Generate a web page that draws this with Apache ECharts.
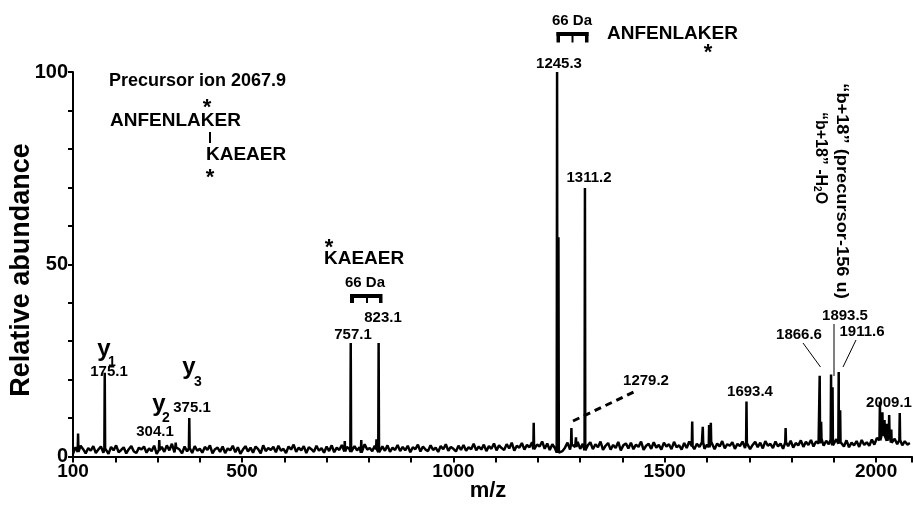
<!DOCTYPE html>
<html>
<head>
<meta charset="utf-8">
<script src="https://cdn.jsdelivr.net/npm/echarts@6/dist/echarts.min.js"></script>
<style>html,body{margin:0;padding:0;background:#fff}#c{width:914px;height:509px}</style>
</head>
<body>
<div id="c"></div>
<script>
// ---- data ----
const NOISE_START = 100;   // m/z of first baseline reading
const NOISE_STEP = 6;      // m/z between baseline readings
const noise = [
  0.7,2.4,1.2,2.8,1.9,0.8,2.2,1.5,2.7,0.9,
  1.8,2.6,1.0,2.1,0.7,2.5,1.6,2.9,1.1,1.7,
  2.4,0.8,1.9,2.7,1.3,0.9,2.3,1.8,2.6,1.0,
  2.1,1.4,2.8,0.7,1.7,2.5,1.2,2.9,1.6,3.3,
  1.1,2.4,1.8,0.8,2.6,1.3,2.2,0.9,2.7,1.5,
  2.0,1.0,2.5,1.7,2.9,0.8,1.9,2.3,1.2,2.6,
  0.9,2.1,1.6,2.8,1.1,2.4,0.7,1.8,2.7,1.3,
  2.3,1.0,2.6,1.9,0.8,2.9,1.4,2.2,1.7,2.5,
  1.1,2.8,1.5,2.0,0.9,2.6,1.8,3.1,1.2,2.3,
  1.6,2.7,0.9,2.4,1.9,1.2,2.8,1.5,2.2,1.0,
  2.6,1.4,2.9,1.1,2.3,1.7,3.0,1.3,2.5,1.9,
  1.2,2.7,1.6,2.4,1.0,3.2,1.8,2.2,1.4,2.8,
  1.9,1.1,2.6,1.5,2.9,1.2,2.3,1.7,3.0,1.4,
  2.5,1.6,2.8,1.1,2.4,1.9,3.1,1.3,2.6,1.8,
  1.4,2.9,1.7,2.3,1.2,2.7,1.9,3.2,1.5,2.5,
  2.0,1.3,2.8,1.7,3.0,1.5,2.4,1.9,3.3,1.6,
  2.6,1.8,3.1,1.4,2.7,2.0,3.4,1.6,2.9,2.2,
  1.7,3.2,2.1,3.6,1.5,2.8,2.3,3.5,1.8,3.0,
  2.4,3.7,1.9,3.1,2.6,3.9,2.0,3.4,1.7,3.2,
  2.2,1.0,0.6,1.4,2.3,3.6,1.8,3.1,2.5,3.8,
  2.0,3.3,1.6,2.9,3.7,1.9,3.2,2.4,3.9,1.7,
  2.8,3.5,1.8,3.0,2.2,3.8,1.6,2.9,3.4,2.1,
  3.6,1.9,3.1,2.5,3.9,1.7,2.8,3.3,2.0,3.7,
  2.3,3.0,1.8,3.6,2.6,3.2,1.9,3.8,2.4,2.9,
  1.8,3.5,2.2,3.9,2.7,1.9,3.3,2.5,3.7,2.0,
  3.1,2.4,3.8,1.9,3.4,2.6,4.0,2.1,3.2,2.8,
  3.7,2.0,3.3,2.7,3.9,2.2,3.5,1.9,3.0,3.8,
  2.4,3.6,2.1,4.0,2.8,3.3,2.2,3.9,2.6,3.4,
  2.0,3.7,2.7,4.1,2.3,3.5,2.9,4.2,2.5,3.8,
  3.0,4.3,2.6,3.9,3.4,4.6,2.8,4.1,3.2,4.4,
  2.9,4.5,3.3,3.8,2.6,4.2,2.4,3.6,2.9,4.0,
  2.5,4.3,3.0,3.7,2.8,4.4,3.1,4.8,4.2,6.0,
  5.4,4.1,5.8,3.6,4.6,3.2,4.3,2.9,4.0,3.1,
  3.5
];
const peakMz = [112, 175.1, 304.1, 343, 375.1, 743, 757.1, 782, 818, 823.1,
  1190, 1245.3, 1248.5, 1279.2, 1290, 1311.2, 1565, 1590, 1605, 1609,
  1693.4, 1786, 1866.6, 1870, 1893.5, 1897, 1911.6, 1915,
  2009.1, 2015, 2020, 2026, 2031, 2036, 2056];
const peakHeight = [6, 21.8, 4.3, 3.6, 10, 4, 29.5, 4.3, 4.5, 29.5,
  8.8, 100, 57, 7.4, 5, 69.8, 9.1, 7.7, 8.2, 8.8,
  14.3, 7.4, 21, 9, 21.3, 18, 22, 12,
  14.3, 11.5, 9.5, 8.5, 10.8, 7, 11.3];
const xTickLabels = [100, 500, 1000, 1500, 2000];
const yTickLabels = [0, 50, 100];

// ---- build series ----
const points = [];
noise.forEach((v, i) => points.push([NOISE_START + i * NOISE_STEP, v]));
peakMz.forEach((mz, i) => {
  const idx = Math.min(noise.length - 1, Math.max(0, Math.round((mz - NOISE_START) / NOISE_STEP)));
  const b = noise[idx];
  points.push([mz - 0.9, b], [mz, peakHeight[i]], [mz + 0.9, b]);
});
points.sort((a, b) => a[0] - b[0]);

const FF = "'Liberation Sans', Arial, Helvetica, sans-serif";
function txt(text, x, y, size, align) {
  return {
    type: 'text', x: x, y: y, silent: true,
    style: { text: text, fill: '#000', font: 'bold ' + size + 'px ' + FF, align: align || 'center', verticalAlign: 'middle' }
  };
}
function rect(x, y, w, h) {
  return { type: 'rect', silent: true, shape: { x: x, y: y, width: w, height: h }, style: { fill: '#000' } };
}
function line(x1, y1, x2, y2, w, dash) {
  return { type: 'line', silent: true, shape: { x1: x1, y1: y1, x2: x2, y2: y2 },
    style: { stroke: '#000', lineWidth: w, lineDash: dash || null } };
}

const graphics = [
  {
    type: 'text', x: 22, y: 270, rotation: Math.PI / 2, silent: true,
    style: { text: 'Relative abundance', fill: '#000', font: 'bold 27px ' + FF, align: 'center', verticalAlign: 'middle' }
  },
  txt('m/z', 488, 491, 22),
  txt('Precursor ion 2067.9', 109, 81, 18, 'left'),
  txt('ANFENLAKER', 110, 121, 19, 'left'),
  txt('*', 207, 108, 22),
  line(210, 132, 210, 143, 2),
  txt('KAEAER', 206, 155, 19, 'left'),
  txt('*', 210, 178, 22),
  txt('*', 329, 248, 22),
  txt('KAEAER', 324, 259, 19, 'left'),
  txt('66 Da', 365, 283, 15),
  rect(350, 294, 32, 4), rect(350, 294, 4, 9), rect(366, 294, 2, 9), rect(379, 294, 3.5, 9),
  txt('757.1', 353, 335, 15),
  txt('823.1', 383, 318, 15),
  txt('66 Da', 572, 21, 15),
  rect(556.5, 32, 32, 4), rect(556.5, 32, 3.5, 10.5), rect(571.5, 32, 2, 10.5), rect(585, 32, 3.5, 10.5),
  txt('ANFENLAKER', 607, 34, 19, 'left'),
  txt('*', 708, 53, 22),
  txt('1245.3', 559, 64, 15),
  txt('1311.2', 589, 178, 15),
  txt('1279.2', 646, 381, 15),
  line(573, 421, 638, 390, 3, [7, 5]),
  txt('1693.4', 750, 392, 15),
  txt('1866.6', 799, 335, 15),
  txt('1893.5', 845, 316, 15),
  txt('1911.6', 862, 332, 15),
  txt('2009.1', 889, 403, 15),
  line(803, 343, 820.5, 367, 1),
  line(834, 324, 834, 376, 1),
  line(856, 340, 843, 367, 1),
  txt('175.1', 109, 372, 15),
  txt('304.1', 155, 432, 15),
  txt('375.1', 192, 408, 15),
  txt('y', 104, 349, 24), txt('1', 112, 362, 14),
  txt('y', 159, 404, 24), txt('2', 166, 418, 14),
  txt('y', 189, 367, 24), txt('3', 198, 382, 14),
  {
    type: 'text', x: 841, y: 191, rotation: -Math.PI / 2, scaleX: 1.14, silent: true,
    style: { text: '\u201Cb+18\u201D (precursor-156 u)', fill: '#000', font: 'bold 16px ' + FF, align: 'center', verticalAlign: 'middle' }
  },
  {
    type: 'text', x: 820, y: 158, rotation: -Math.PI / 2, silent: true,
    style: {
      text: '{a|\u201Cb+18\u201D -H}{s|2}{a|O}', fill: '#000', align: 'center', verticalAlign: 'middle',
      rich: {
        a: { font: 'bold 16px ' + FF, fill: '#000' },
        s: { font: 'bold 10px ' + FF, fill: '#000', padding: [6, 0, 0, 0] }
      }
    }
  }
];

const chart = echarts.init(document.getElementById('c'), null, { renderer: 'canvas' });
chart.setOption({
  animation: false,
  backgroundColor: '#fff',
  grid: { left: 73, right: 2, top: 72, bottom: 52.5, containLabel: false, outerBoundsMode: 'none' },
  xAxis: {
    type: 'value', min: 100, max: 2085, interval: 100,
    axisLine: { show: true, onZero: false, lineStyle: { color: '#000', width: 2 } },
    axisTick: { show: true, inside: false, length: 6, lineStyle: { color: '#000', width: 2 } },
    axisLabel: {
      margin: 6, fontSize: 19, fontWeight: 'bold', fontFamily: FF, color: '#000',
      formatter: v => (xTickLabels.indexOf(v) >= 0 ? String(v) : '')
    },
    splitLine: { show: false }
  },
  yAxis: {
    type: 'value', min: 0, max: 100, interval: 10,
    axisLine: { show: true, lineStyle: { color: '#000', width: 2 } },
    axisTick: { show: true, inside: false, length: 5, lineStyle: { color: '#000', width: 2 } },
    axisLabel: {
      margin: 5, fontSize: 20, fontWeight: 'bold', fontFamily: FF, color: '#000',
      formatter: v => (yTickLabels.indexOf(v) >= 0 ? String(v) : '')
    },
    splitLine: { show: false }
  },
  series: [{
    type: 'line', data: points, showSymbol: false, symbol: 'none', sampling: null,
    lineStyle: { color: '#000', width: 2.5 }, silent: true, clip: true
  }],
  graphic: graphics
});
</script>
</body>
</html>
